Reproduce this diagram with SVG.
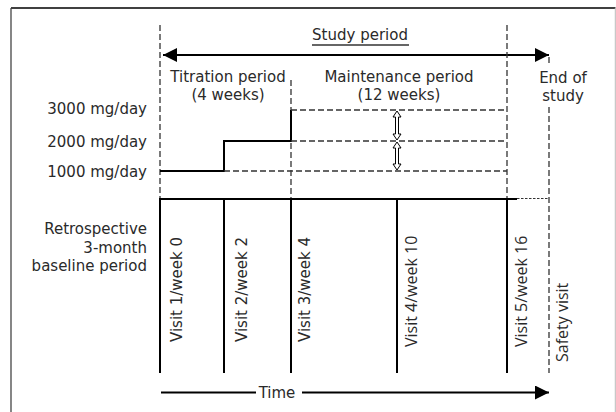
<svg xmlns="http://www.w3.org/2000/svg" width="616" height="412" viewBox="0 0 616 412">
<defs>
<style>
.t{font-family:"DejaVu Sans","Liberation Sans",sans-serif;font-size:15px;fill:#2a2a2a}
.o{font-family:"Open Sans","DejaVu Sans",sans-serif;font-size:16px;fill:#2a2a2a}
.s{stroke:#000;stroke-width:2;fill:none}
.d{stroke:#333;stroke-width:1.3;stroke-dasharray:6 3;fill:none}
.f{stroke:#333;stroke-width:1;stroke-dasharray:2.5 1.5;fill:none}
.h{fill:#fff;stroke:#000;stroke-width:1}
</style>
<marker id="ah" viewBox="0 0 14 14" refX="14" refY="7" markerWidth="14" markerHeight="14" markerUnits="userSpaceOnUse" orient="auto-start-reverse">
<path d="M0,0 L14,7 L0,14 Z" fill="#000"/>
</marker>
</defs>
<rect width="616" height="412" fill="#fff"/>
<g id="frame">
<line x1="11" y1="8" x2="615.5" y2="8" stroke="#000" stroke-width="1.4"/>
<line x1="11" y1="8" x2="11" y2="412" stroke="#444" stroke-width="1.3"/>
<line x1="615.3" y1="8" x2="615.3" y2="412" stroke="#bbb" stroke-width="1"/>
</g>
<g id="connectors">
<line class="s" x1="163" y1="55" x2="549" y2="55" marker-start="url(#ah)" marker-end="url(#ah)"/>
<line class="d" x1="160" y1="25" x2="160" y2="199"/>
<line class="d" x1="291" y1="80" x2="291" y2="199"/>
<line class="d" x1="507" y1="25" x2="507" y2="199"/>
<line class="d" x1="549" y1="57" x2="549" y2="66"/>
<line class="d" x1="549" y1="107" x2="549" y2="373"/>
<polyline class="s" points="160,171 224,171 224,141 291,141 291,110"/>
<line class="d" x1="291" y1="110" x2="507" y2="110"/>
<line class="d" x1="291" y1="141" x2="507" y2="141"/>
<line class="d" x1="224" y1="171" x2="507" y2="171"/>
<polygon class="h" points="397,111 401,117 398.5,117 398.5,134 401,134 397,140 393,134 395.5,134 395.5,117 393,117"/>
<polygon class="h" points="397,142 401,148 398.5,148 398.5,164 401,164 397,170 393,164 395.5,164 395.5,148 393,148"/>
<line class="s" x1="159" y1="199" x2="517" y2="199"/>
<line class="f" x1="517" y1="198.5" x2="549" y2="198.5"/>
<line class="s" x1="160" y1="199" x2="160" y2="373"/>
<line class="s" x1="224" y1="199" x2="224" y2="373"/>
<line class="s" x1="291" y1="199" x2="291" y2="373"/>
<line class="s" x1="397" y1="199" x2="397" y2="373"/>
<line class="s" x1="507" y1="199" x2="507" y2="373"/>
<line class="s" x1="161" y1="392.5" x2="256" y2="392.5"/>
<line class="s" x1="302" y1="392.5" x2="549" y2="392.5" marker-end="url(#ah)"/>
<line x1="312" y1="45" x2="409" y2="45" stroke="#333" stroke-width="1.3"/>
</g>
<g id="study-period"><text class="t" x="360" y="40" text-anchor="middle">Study period</text></g>
<g id="titration">
<text class="t" x="228" y="82" text-anchor="middle">Titration period</text>
<text class="t" x="228" y="100" text-anchor="middle">(4 weeks)</text>
</g>
<g id="maintenance">
<text class="t" x="399" y="82" text-anchor="middle">Maintenance period</text>
<text class="t" x="399" y="100" text-anchor="middle">(12 weeks)</text>
</g>
<g id="end-of-study">
<text class="t" x="563" y="83" text-anchor="middle">End of</text>
<text class="t" x="563" y="101" text-anchor="middle">study</text>
</g>
<g id="doses">
<text class="t" x="147" y="114" text-anchor="end">3000 mg/day</text>
<text class="t" x="147" y="147" text-anchor="end">2000 mg/day</text>
<text class="t" x="147" y="177" text-anchor="end">1000 mg/day</text>
</g>
<g id="baseline">
<text class="t" x="147" y="234" text-anchor="end">Retrospective</text>
<text class="t" x="147" y="252.5" text-anchor="end">3-month</text>
<text class="t" x="147" y="271" text-anchor="end">baseline period</text>
</g>
<g id="visit1"><text class="t" transform="translate(181.5,342) rotate(-90)">Visit 1/week 0</text></g>
<g id="visit2"><text class="t" transform="translate(246.5,342) rotate(-90)">Visit 2/week 2</text></g>
<g id="visit3"><text class="t" transform="translate(310,342) rotate(-90)">Visit 3/week 4</text></g>
<g id="visit4"><text class="o" transform="translate(416.5,347) rotate(-90)">Visit 4/week 10</text></g>
<g id="visit5"><text class="o" transform="translate(526.5,347) rotate(-90)">Visit 5/week 16</text></g>
<g id="safety"><text class="o" transform="translate(568,362) rotate(-90)">Safety visit</text></g>
<g id="time"><text class="t" x="277" y="398" text-anchor="middle">Time</text></g>
</svg>
